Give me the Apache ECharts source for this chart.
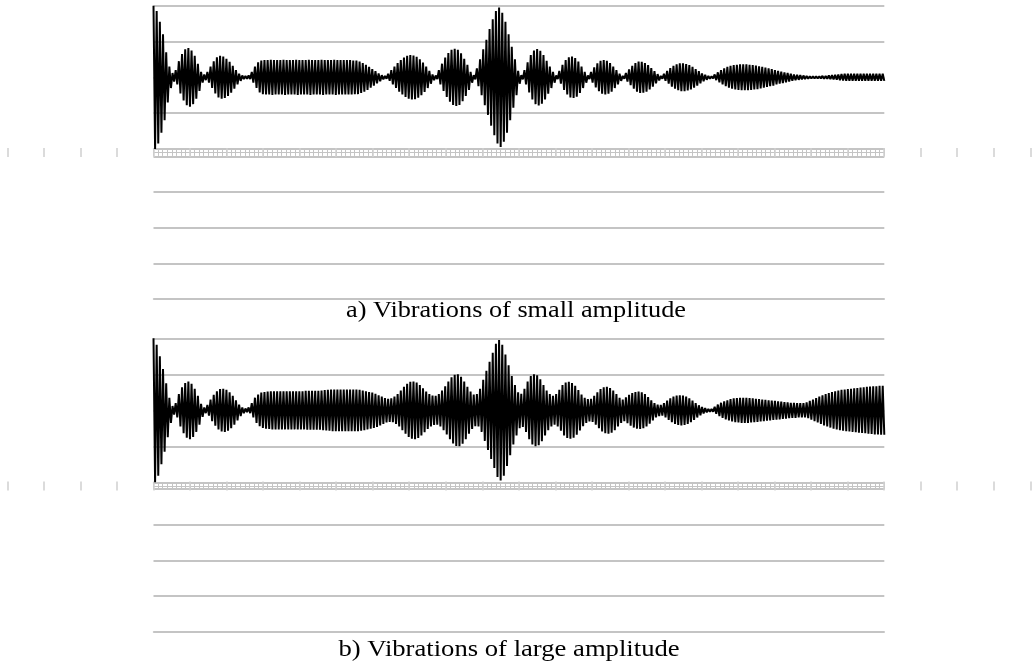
<!DOCTYPE html>
<html>
<head>
<meta charset="utf-8">
<script src="https://cdn.jsdelivr.net/npm/echarts/dist/echarts.min.js"></script>
<style>
html,body{margin:0;padding:0;background:#fff;}
#main{width:1035px;height:667px;}
</style>
</head>
<body>
<div id="main"></div>
<script>
// peak amplitude of each oscillation cycle
var ampSmall = [
	2.0,1.85,1.55,1.2,0.7,0.3,0.12,0.2,0.45,0.65,
	0.78,0.82,0.75,0.6,0.38,0.15,0.08,0.15,0.3,0.45,
	0.56,0.6,0.58,0.52,0.43,0.32,0.2,0.1,0.05,0.04,
	0.05,0.15,0.3,0.42,0.47,0.48,0.48,0.49,0.48,0.48,
	0.48,0.49,0.48,0.48,0.48,0.49,0.48,0.48,0.48,0.49,
	0.48,0.48,0.48,0.49,0.48,0.48,0.48,0.49,0.48,0.48,
	0.48,0.48,0.48,0.47,0.47,0.44,0.4,0.35,0.29,0.23,
	0.17,0.11,0.06,0.04,0.1,0.2,0.3,0.4,0.48,0.55,
	0.6,0.62,0.61,0.57,0.5,0.41,0.3,0.18,0.08,0.05,
	0.2,0.38,0.55,0.68,0.77,0.8,0.77,0.67,0.52,0.35,
	0.15,0.06,0.25,0.5,0.78,1.05,1.35,1.62,1.85,1.95,
	1.8,1.55,1.2,0.85,0.5,0.18,0.06,0.2,0.42,0.62,
	0.75,0.79,0.74,0.62,0.46,0.3,0.15,0.05,0.18,0.35,
	0.48,0.56,0.58,0.54,0.44,0.3,0.15,0.05,0.15,0.28,
	0.39,0.46,0.48,0.46,0.4,0.3,0.2,0.1,0.04,0.12,
	0.22,0.32,0.4,0.44,0.43,0.4,0.34,0.26,0.17,0.09,
	0.04,0.1,0.18,0.26,0.32,0.36,0.39,0.39,0.37,0.34,
	0.29,0.23,0.17,0.11,0.07,0.04,0.03,0.08,0.14,0.2,
	0.25,0.29,0.32,0.34,0.35,0.36,0.36,0.36,0.35,0.34,
	0.33,0.31,0.29,0.27,0.25,0.23,0.2,0.18,0.16,0.14,
	0.12,0.1,0.08,0.07,0.06,0.05,0.04,0.03,0.03,0.03,
	0.03,0.04,0.04,0.05,0.06,0.07,0.08,0.09,0.1,0.1,
	0.1,0.1,0.1,0.1,0.1,0.1,0.1,0.1,0.1,0.1,0.1
];
var ampLarge = [
	2.0,1.82,1.5,1.15,0.75,0.35,0.12,0.2,0.45,0.64,
	0.76,0.8,0.74,0.6,0.4,0.18,0.08,0.15,0.3,0.43,
	0.53,0.59,0.6,0.57,0.5,0.4,0.28,0.16,0.08,0.05,
	0.08,0.2,0.35,0.44,0.49,0.51,0.52,0.53,0.53,0.53,
	0.53,0.53,0.53,0.53,0.53,0.53,0.53,0.53,0.54,0.54,
	0.54,0.54,0.54,0.55,0.56,0.57,0.58,0.58,0.58,0.58,
	0.58,0.58,0.58,0.58,0.58,0.57,0.55,0.53,0.51,0.49,
	0.46,0.42,0.38,0.34,0.32,0.33,0.38,0.45,0.55,0.65,
	0.74,0.79,0.8,0.77,0.7,0.61,0.52,0.45,0.41,0.4,
	0.45,0.55,0.67,0.8,0.92,0.99,1.0,0.93,0.8,0.65,
	0.52,0.44,0.45,0.6,0.85,1.1,1.35,1.6,1.85,1.95,
	1.82,1.55,1.25,0.95,0.7,0.5,0.46,0.6,0.8,0.95,
	1.0,0.97,0.86,0.7,0.55,0.45,0.4,0.45,0.57,0.7,
	0.77,0.79,0.76,0.68,0.56,0.44,0.35,0.31,0.32,0.4,
	0.5,0.59,0.64,0.65,0.62,0.55,0.45,0.35,0.3,0.36,
	0.43,0.48,0.51,0.52,0.5,0.45,0.37,0.28,0.2,0.16,
	0.15,0.2,0.27,0.33,0.38,0.41,0.42,0.41,0.38,0.33,
	0.27,0.2,0.14,0.09,0.06,0.04,0.04,0.1,0.16,0.21,
	0.25,0.28,0.31,0.33,0.34,0.35,0.35,0.35,0.34,0.33,
	0.32,0.31,0.3,0.29,0.28,0.27,0.26,0.25,0.24,0.23,
	0.22,0.21,0.21,0.2,0.2,0.2,0.22,0.26,0.3,0.34,
	0.38,0.42,0.45,0.48,0.51,0.53,0.55,0.57,0.58,0.59,
	0.6,0.61,0.62,0.63,0.64,0.65,0.66,0.67,0.67,0.68,0.68
];
var captions = ['a) Vibrations of small amplitude', 'b) Vibrations of large amplitude'];

var gridColor = '#c4c4c4';

/*each cycle: one peak up, one peak down*/
function zigzag(amps){
	var pts = [];
	for(var i = 0;i<amps.length;i++){
		pts.push([i, amps[i]]);
		pts.push([i + 0.5, -amps[i]]);
	}
	return pts;
}

function yAx(idx, min, max){
	return {
		type:'value', gridIndex:idx, min:min, max:max, interval:1,
		axisLine:{show:false}, axisTick:{show:false}, axisLabel:{show:false},
		splitLine:{show:true, lineStyle:{color:gridColor, width:2}}
	};
}
function hideY(idx){
	return {type:'value', gridIndex:idx, min:0, max:1, show:false};
}
function bandAxes(idx){
	return [
		{type:'value', gridIndex:idx, position:'bottom', min:0, max:160, interval:1,
			axisLine:{show:true, lineStyle:{color:gridColor, width:1.5}},
			axisTick:{show:true, length:7, lineStyle:{color:gridColor, width:1}},
			axisLabel:{show:false}, splitLine:{show:false}},
		{type:'value', gridIndex:idx, position:'bottom', offset:3.6, min:0, max:1,
			axisLine:{show:true, lineStyle:{color:gridColor, width:1.2}},
			axisTick:{show:false}, axisLabel:{show:false}, splitLine:{show:false}}
	];
}
function waveAxis(idx){
	return {type:'value', gridIndex:idx, position:'bottom', min:0, max:230.5, show:false};
}
function topAxis(idx){
	return {type:'value', gridIndex:idx, position:'top', min:0, max:1,
		axisLine:{show:true, lineStyle:{color:gridColor, width:1.5}},
		axisTick:{show:false}, axisLabel:{show:false}, splitLine:{show:false}};
}
function outTicks(idx){
	return {type:'value', gridIndex:idx, position:'bottom', min:0, max:28, interval:1,
		axisLine:{show:false},
		axisTick:{show:true, inside:true, length:9, lineStyle:{color:'#d0d0d0', width:1.5}},
		axisLabel:{show:false}, splitLine:{show:false}};
}

var myChart = echarts.init(document.getElementById('main'));
var option = {
	animation:false,
	backgroundColor:'#fff',
	grid:[
		{left:153.5, width:730.8, top:5.7, height:143.2},
		{left:153.5, width:730.8, top:156.3, height:142.7},
		{left:153.5, width:730.8, top:338.3, height:144},
		{left:153.5, width:730.8, top:489, height:142.8},
		{left:7.3, width:1023, top:148, height:9},
		{left:7.3, width:1023, top:481.5, height:9}
	],
	xAxis:[].concat(
		[waveAxis(0)], bandAxes(0), [topAxis(1)],
		[waveAxis(2)], bandAxes(2), [topAxis(3)],
		[outTicks(4), outTicks(5)]
	),
	yAxis:[yAx(0,-2,2), yAx(1,0,4), yAx(2,-2,2), yAx(3,0,4), hideY(4), hideY(5)],
	series:[
		{type:'line', xAxisIndex:0, yAxisIndex:0, data:zigzag(ampSmall),
			showSymbol:false, symbol:'none', sampling:null,
			lineStyle:{color:'#000', width:2}},
		{type:'line', xAxisIndex:4, yAxisIndex:2, data:zigzag(ampLarge),
			showSymbol:false, symbol:'none', sampling:null,
			lineStyle:{color:'#000', width:2}}
	],
	graphic:[
		{type:'text', x:516, y:311, scaleX:1.095,
			style:{text:captions[0], fontSize:24, fontFamily:'Liberation Serif', fill:'#000',
				textAlign:'center', textVerticalAlign:'middle', align:'center', verticalAlign:'middle'}},
		{type:'text', x:509, y:650, scaleX:1.11,
			style:{text:captions[1], fontSize:24, fontFamily:'Liberation Serif', fill:'#000',
				textAlign:'center', textVerticalAlign:'middle', align:'center', verticalAlign:'middle'}}
	]
};
myChart.setOption(option);
</script>
</body>
</html>
